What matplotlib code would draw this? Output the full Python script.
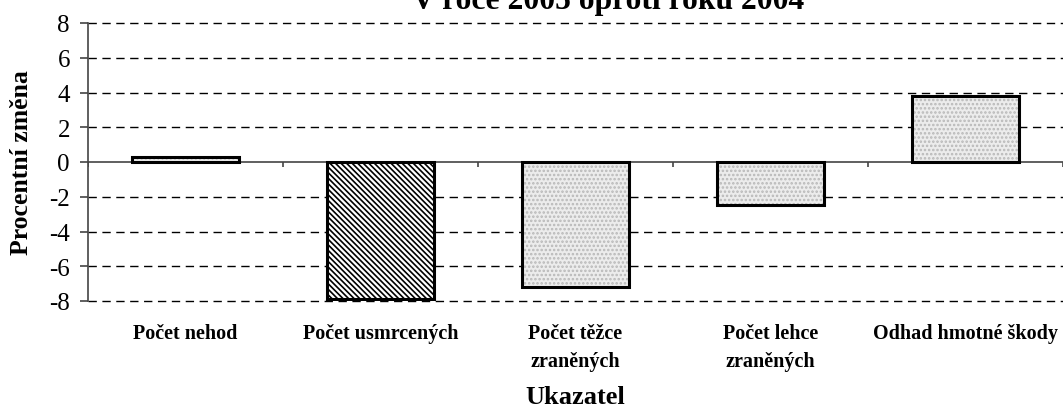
import numpy as np
import matplotlib.pyplot as plt

categories = ["Počet nehod", "Počet usmrcených", "Počet těžce\nzraněných",
              "Počet lehce\nzraněných", "Odhad hmotné škody"]
values = [0.3, -7.9, -7.2, -2.5, 3.8]
hatches = ["....", "\\\\\\\\\\\\", "....", "....", "...."]
hatch_colors = ["#b8b8b8", "black", "#b8b8b8", "#b8b8b8", "#b8b8b8"]
face_colors = ["#ececec", "white", "#ececec", "#ececec", "#ececec"]
yticks = np.arange(-8, 9, 2)

plt.rcParams['font.family'] = ['Liberation Serif', 'DejaVu Serif']
plt.rcParams['hatch.linewidth'] = 1.2

W, H = 1063, 414
fig = plt.figure(figsize=(W / 100, H / 100), dpi=100)
ax = fig.add_axes([88 / W, 112 / H, 975 / W, 278 / H])

x = np.arange(len(categories))
# fill with pattern, then a separate black outline
for xi, v, h, hc, fc in zip(x, values, hatches, hatch_colors, face_colors):
    ax.bar(xi, v, width=0.55, facecolor=fc, edgecolor=hc, hatch=h, linewidth=0, zorder=3)
ax.bar(x, values, width=0.55, facecolor="none", edgecolor="black", linewidth=2.2, zorder=4)

ax.set_xlim(-0.5, len(categories) - 0.5)
ax.set_ylim(-8, 8)
ax.set_yticks(yticks)
ax.set_yticklabels([str(t) for t in yticks], fontsize=18)
for t in yticks:
    if t != 0:
        ax.axhline(t, color="black", linestyle=(0, (6, 4)), linewidth=1, zorder=1, clip_on=False)
ax.axhline(0, color="#444444", linewidth=1.2, zorder=2)
ax.vlines(np.arange(-0.5, len(categories)), -0.3, 0, color="#444444", linewidth=1.2, zorder=2)

ax.set_xticks(x)
ax.set_xticklabels(categories, fontsize=14.5, fontweight="bold", linespacing=1.5, va="top")
ax.tick_params(axis="x", length=0, pad=16)
ax.tick_params(axis="y", length=6, pad=7, color="#444444", width=1.2)

for s in ["top", "right", "bottom"]:
    ax.spines[s].set_visible(False)
ax.spines["left"].set_color("#444444")
ax.spines["left"].set_linewidth(1.2)

xc = 0.5 * (88 + W) / W
fig.text(22 / W, 1 - 163 / H, "Procentní změna", rotation=90, ha="center", va="center",
         fontsize=18.5, fontweight="bold")
fig.text(xc, 10 / H, "Ukazatel", ha="center", va="baseline", fontsize=19, fontweight="bold")
fig.text(608 / W, 1 - 9 / H, "V roce 2005 oproti roku 2004",
         ha="center", va="baseline", fontsize=22.8, fontweight="bold")

fig.savefig("out.png", dpi=100)
